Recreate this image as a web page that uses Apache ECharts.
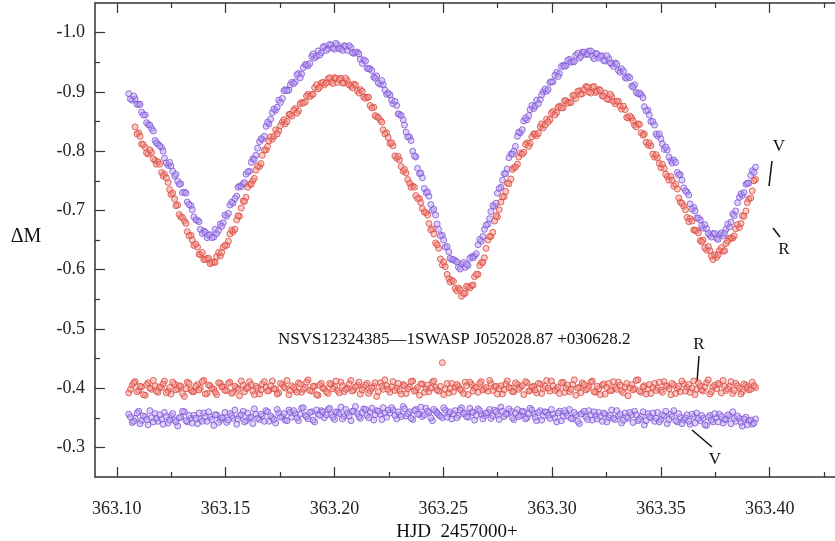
<!DOCTYPE html>
<html><head><meta charset="utf-8">
<script src="https://cdn.jsdelivr.net/npm/echarts@6/dist/echarts.min.js"></script>
<style>html,body{margin:0;padding:0;background:#fff}#c{width:835px;height:541px}</style>
</head><body><div id="c"></div>
<script>
const times = [
363.1055,363.1071,363.1084,363.1101,363.1114,363.1131,363.1144,363.1160,363.1176,363.1189,
363.1206,363.1219,363.1236,363.1249,363.1266,363.1280,363.1294,363.1311,363.1324,363.1341,
363.1354,363.1371,363.1384,363.1400,363.1415,363.1429,363.1446,363.1459,363.1476,363.1489,
363.1505,363.1520,363.1534,363.1551,363.1564,363.1581,363.1594,363.1610,363.1625,363.1639,
363.1656,363.1669,363.1686,363.1699,363.1715,363.1730,363.1744,363.1761,363.1774,363.1791,
363.1804,363.1820,363.1835,363.1849,363.1866,363.1879,363.1896,363.1909,363.1925,363.1940,
363.1954,363.1971,363.1984,363.2001,363.2014,363.2030,363.2045,363.2059,363.2076,363.2089,
363.2106,363.2119,363.2135,363.2150,363.2164,363.2181,363.2194,363.2211,363.2224,363.2240,
363.2255,363.2269,363.2286,363.2299,363.2316,363.2329,363.2345,363.2360,363.2374,363.2391,
363.2404,363.2421,363.2434,363.2450,363.2465,363.2479,363.2496,363.2509,363.2526,363.2539,
363.2555,363.2570,363.2584,363.2601,363.2614,363.2631,363.2644,363.2660,363.2675,363.2689,
363.2706,363.2719,363.2736,363.2749,363.2765,363.2780,363.2794,363.2811,363.2824,363.2841,
363.2854,363.2870,363.2885,363.2899,363.2916,363.2929,363.2946,363.2959,363.2975,363.2990,
363.3004,363.3021,363.3034,363.3051,363.3064,363.3080,363.3095,363.3109,363.3126,363.3139,
363.3156,363.3169,363.3185,363.3200,363.3214,363.3231,363.3244,363.3261,363.3274,363.3290,
363.3305,363.3319,363.3336,363.3349,363.3366,363.3379,363.3395,363.3410,363.3424,363.3441,
363.3454,363.3471,363.3484,363.3500,363.3515,363.3529,363.3546,363.3559,363.3576,363.3589,
363.3605,363.3620,363.3634,363.3651,363.3664,363.3681,363.3694,363.3710,363.3725,363.3739,
363.3756,363.3769,363.3786,363.3799,363.3815,363.3830,363.3844,363.3861,363.3874,363.3891,
363.3904,363.3920,363.3935];

const lightV = [
-0.897,-0.886,-0.888,-0.879,-0.866,-0.861,-0.845,-0.838,-0.818,-0.812,
-0.806,-0.788,-0.776,-0.775,-0.758,-0.749,-0.745,-0.731,-0.714,-0.708,
-0.689,-0.683,-0.668,-0.665,-0.654,-0.659,-0.655,-0.661,-0.677,-0.679,
-0.690,-0.709,-0.712,-0.724,-0.741,-0.745,-0.761,-0.766,-0.787,-0.793,
-0.816,-0.820,-0.842,-0.846,-0.865,-0.869,-0.886,-0.889,-0.904,-0.903,
-0.916,-0.917,-0.931,-0.930,-0.946,-0.944,-0.960,-0.957,-0.969,-0.966,
-0.977,-0.973,-0.979,-0.972,-0.979,-0.973,-0.978,-0.970,-0.975,-0.965,
-0.967,-0.955,-0.954,-0.940,-0.939,-0.925,-0.927,-0.913,-0.912,-0.896,
-0.895,-0.880,-0.877,-0.862,-0.853,-0.832,-0.824,-0.800,-0.790,-0.762,
-0.755,-0.730,-0.724,-0.700,-0.692,-0.668,-0.658,-0.638,-0.630,-0.617,
-0.615,-0.604,-0.609,-0.604,-0.607,-0.622,-0.623,-0.642,-0.648,-0.668,
-0.677,-0.698,-0.707,-0.729,-0.739,-0.762,-0.770,-0.795,-0.800,-0.825,
-0.831,-0.851,-0.853,-0.870,-0.872,-0.886,-0.887,-0.900,-0.901,-0.916,
-0.917,-0.933,-0.931,-0.945,-0.944,-0.955,-0.951,-0.962,-0.957,-0.967,
-0.963,-0.969,-0.960,-0.965,-0.957,-0.961,-0.952,-0.956,-0.947,-0.949,
-0.936,-0.939,-0.924,-0.926,-0.910,-0.912,-0.897,-0.895,-0.875,-0.869,
-0.850,-0.844,-0.826,-0.821,-0.803,-0.802,-0.784,-0.785,-0.764,-0.760,
-0.738,-0.731,-0.711,-0.705,-0.687,-0.684,-0.670,-0.669,-0.658,-0.661,
-0.653,-0.659,-0.657,-0.668,-0.672,-0.694,-0.699,-0.722,-0.725,-0.744,
-0.746,-0.767,-0.773];

const lightR = [
null,null,-0.841,-0.831,-0.812,-0.806,-0.795,-0.798,-0.784,-0.782,
-0.764,-0.761,-0.747,-0.727,-0.719,-0.709,-0.689,-0.682,-0.664,-0.658,
-0.641,-0.638,-0.625,-0.617,-0.619,-0.610,-0.613,-0.622,-0.623,-0.638,
-0.641,-0.660,-0.664,-0.684,-0.690,-0.716,-0.722,-0.744,-0.750,-0.768,
-0.774,-0.793,-0.802,-0.817,-0.820,-0.836,-0.834,-0.849,-0.846,-0.862,
-0.859,-0.872,-0.868,-0.882,-0.883,-0.896,-0.895,-0.907,-0.905,-0.915,
-0.912,-0.922,-0.917,-0.924,-0.916,-0.923,-0.915,-0.919,-0.910,-0.913,
-0.902,-0.904,-0.891,-0.891,-0.877,-0.874,-0.858,-0.852,-0.836,-0.831,
-0.813,-0.809,-0.788,-0.785,-0.766,-0.763,-0.746,-0.741,-0.725,-0.720,
-0.703,-0.696,-0.678,-0.669,-0.645,-0.636,-0.608,-0.605,-0.585,-0.582,
-0.568,-0.569,-0.555,-0.560,-0.571,-0.573,-0.588,-0.592,-0.612,-0.620,
-0.650,-0.656,-0.682,-0.689,-0.714,-0.723,-0.746,-0.753,-0.772,-0.778,
-0.797,-0.798,-0.814,-0.813,-0.829,-0.826,-0.841,-0.839,-0.854,-0.853,
-0.867,-0.865,-0.876,-0.873,-0.885,-0.882,-0.894,-0.889,-0.902,-0.897,
-0.909,-0.900,-0.908,-0.899,-0.904,-0.893,-0.898,-0.887,-0.892,-0.880,
-0.884,-0.871,-0.870,-0.856,-0.856,-0.844,-0.846,-0.831,-0.829,-0.810,
-0.809,-0.790,-0.789,-0.772,-0.771,-0.757,-0.757,-0.741,-0.736,-0.714,
-0.707,-0.688,-0.686,-0.667,-0.666,-0.649,-0.650,-0.633,-0.632,-0.617,
-0.621,-0.632,-0.631,-0.644,-0.652,-0.653,-0.669,-0.671,-0.691,-0.699,
-0.719,-0.733,-0.752];

const compR = [
-0.392,-0.405,-0.411,-0.396,-0.402,-0.388,-0.409,-0.398,-0.404,-0.393,
-0.401,-0.412,-0.395,-0.390,-0.407,-0.399,-0.403,-0.386,-0.410,-0.397,
-0.394,-0.406,-0.400,-0.413,-0.391,-0.404,-0.398,-0.389,-0.408,-0.402,
-0.396,-0.410,-0.393,-0.401,-0.387,-0.405,-0.399,-0.411,-0.395,-0.403,
-0.390,-0.407,-0.402,-0.396,-0.412,-0.398,-0.392,-0.406,-0.400,-0.389,
-0.404,-0.397,-0.409,-0.393,-0.401,-0.414,-0.395,-0.403,-0.388,-0.408,
-0.399,-0.391,-0.406,-0.402,-0.396,-0.410,-0.394,-0.400,-0.413,-0.397,
-0.405,-0.390,-0.401,-0.408,-0.395,-0.403,-0.386,-0.409,-0.398,-0.404,
-0.393,-0.411,-0.400,-0.396,-0.406,-0.391,-0.402,-0.412,-0.397,-0.388,
-0.407,-0.399,-0.394,-0.410,-0.401,-0.395,-0.443,-0.398,-0.392,-0.408,
-0.402,-0.403,-0.396,-0.410,-0.389,-0.406,-0.400,-0.393,-0.411,-0.399,
-0.395,-0.408,-0.402,-0.390,-0.404,-0.397,-0.412,-0.400,-0.394,-0.406,
-0.401,-0.389,-0.409,-0.396,-0.403,-0.392,-0.407,-0.399,-0.413,-0.395,
-0.404,-0.398,-0.391,-0.410,-0.400,-0.394,-0.406,-0.388,-0.402,-0.409,
-0.397,-0.403,-0.412,-0.393,-0.399,-0.405,-0.390,-0.408,-0.396,-0.401,
-0.410,-0.395,-0.402,-0.387,-0.406,-0.399,-0.414,-0.393,-0.404,-0.398,
-0.391,-0.408,-0.400,-0.396,-0.411,-0.403,-0.389,-0.405,-0.399,-0.394,
-0.407,-0.401,-0.393,-0.412,-0.398,-0.404,-0.395,-0.409,-0.390,-0.402,
-0.399,-0.406,-0.413,-0.396,-0.403,-0.391,-0.408,-0.400,-0.394,-0.405,
-0.397,-0.410,-0.401];

const compV = [
-0.356,-0.342,-0.349,-0.361,-0.345,-0.352,-0.338,-0.350,-0.357,-0.344,
-0.348,-0.359,-0.341,-0.353,-0.346,-0.336,-0.351,-0.360,-0.343,-0.349,
-0.354,-0.340,-0.347,-0.358,-0.344,-0.351,-0.337,-0.355,-0.346,-0.350,
-0.342,-0.357,-0.349,-0.339,-0.353,-0.361,-0.345,-0.350,-0.340,-0.356,
-0.347,-0.353,-0.362,-0.344,-0.350,-0.341,-0.358,-0.352,-0.346,-0.363,
-0.351,-0.357,-0.345,-0.366,-0.354,-0.348,-0.360,-0.343,-0.356,-0.362,
-0.350,-0.364,-0.355,-0.347,-0.359,-0.368,-0.352,-0.358,-0.345,-0.361,
-0.357,-0.349,-0.365,-0.354,-0.360,-0.346,-0.362,-0.356,-0.367,-0.351,
-0.358,-0.363,-0.348,-0.355,-0.369,-0.353,-0.360,-0.347,-0.364,-0.356,
-0.352,-0.366,-0.359,-0.345,-0.361,-0.355,-0.350,-0.363,-0.357,-0.348,
-0.362,-0.354,-0.367,-0.358,-0.351,-0.360,-0.346,-0.365,-0.356,-0.353,
-0.359,-0.349,-0.363,-0.355,-0.368,-0.352,-0.357,-0.361,-0.347,-0.364,
-0.354,-0.360,-0.350,-0.366,-0.357,-0.345,-0.362,-0.353,-0.359,-0.349,
-0.356,-0.343,-0.361,-0.352,-0.358,-0.364,-0.348,-0.355,-0.340,-0.357,
-0.351,-0.362,-0.346,-0.354,-0.359,-0.344,-0.356,-0.350,-0.363,-0.347,
-0.353,-0.341,-0.358,-0.349,-0.355,-0.361,-0.345,-0.352,-0.338,-0.357,
-0.350,-0.344,-0.359,-0.347,-0.353,-0.340,-0.356,-0.362,-0.343,-0.351,
-0.346,-0.355,-0.339,-0.352,-0.358,-0.345,-0.349,-0.337,-0.354,-0.343,
-0.350,-0.356,-0.341,-0.347,-0.353,-0.360,-0.344,-0.349,-0.336,-0.351,
-0.345,-0.339,-0.348];

const times2 = [
363.1063,363.1078,363.1093,363.1107,363.1122,363.1137,363.1152,363.1168,363.1182,363.1197,
363.1213,363.1228,363.1243,363.1257,363.1272,363.1287,363.1302,363.1318,363.1332,363.1347,
363.1363,363.1378,363.1393,363.1407,363.1422,363.1437,363.1452,363.1468,363.1482,363.1497,
363.1513,363.1528,363.1543,363.1557,363.1572,363.1587,363.1602,363.1618,363.1632,363.1647,
363.1663,363.1678,363.1693,363.1707,363.1722,363.1737,363.1752,363.1768,363.1782,363.1797,
363.1813,363.1828,363.1843,363.1857,363.1872,363.1887,363.1902,363.1918,363.1932,363.1947,
363.1963,363.1978,363.1993,363.2007,363.2022,363.2037,363.2052,363.2068,363.2082,363.2097,
363.2113,363.2128,363.2143,363.2157,363.2172,363.2187,363.2202,363.2218,363.2232,363.2247,
363.2263,363.2278,363.2293,363.2307,363.2322,363.2337,363.2352,363.2368,363.2382,363.2397,
363.2413,363.2428,363.2443,363.2457,363.2472,363.2487,363.2502,363.2518,363.2532,363.2547,
363.2563,363.2578,363.2593,363.2607,363.2622,363.2637,363.2652,363.2668,363.2682,363.2697,
363.2713,363.2728,363.2743,363.2757,363.2772,363.2787,363.2802,363.2818,363.2832,363.2847,
363.2863,363.2878,363.2893,363.2907,363.2922,363.2937,363.2952,363.2968,363.2982,363.2997,
363.3013,363.3028,363.3043,363.3057,363.3072,363.3087,363.3102,363.3118,363.3132,363.3147,
363.3163,363.3178,363.3193,363.3207,363.3222,363.3237,363.3252,363.3268,363.3282,363.3297,
363.3313,363.3328,363.3343,363.3357,363.3372,363.3387,363.3402,363.3418,363.3432,363.3447,
363.3463,363.3478,363.3493,363.3507,363.3522,363.3537,363.3552,363.3568,363.3582,363.3597,
363.3613,363.3628,363.3643,363.3657,363.3672,363.3687,363.3702,363.3718,363.3732,363.3747,
363.3763,363.3778,363.3793,363.3807,363.3822,363.3837,363.3852,363.3868,363.3882,363.3897,
363.3913,363.3928];

const lightV2 = [
-0.888,-0.893,-0.879,-0.879,-0.861,-0.848,-0.844,-0.834,-0.814,-0.809,
-0.800,-0.780,-0.781,-0.766,-0.761,-0.744,-0.730,-0.729,-0.710,-0.701,
-0.684,-0.681,-0.661,-0.663,-0.658,-0.654,-0.668,-0.666,-0.673,-0.692,
-0.695,-0.714,-0.720,-0.739,-0.740,-0.747,-0.765,-0.781,-0.786,-0.805,
-0.821,-0.825,-0.849,-0.854,-0.871,-0.874,-0.882,-0.902,-0.902,-0.912,
-0.914,-0.929,-0.924,-0.941,-0.946,-0.948,-0.964,-0.960,-0.962,-0.975,
-0.970,-0.980,-0.974,-0.982,-0.973,-0.970,-0.977,-0.978,-0.966,-0.967,
-0.964,-0.948,-0.952,-0.939,-0.936,-0.923,-0.915,-0.919,-0.903,-0.898,
-0.886,-0.884,-0.863,-0.860,-0.844,-0.824,-0.818,-0.792,-0.771,-0.763,
-0.737,-0.731,-0.710,-0.702,-0.677,-0.657,-0.650,-0.639,-0.619,-0.617,
-0.613,-0.601,-0.612,-0.609,-0.619,-0.620,-0.627,-0.651,-0.656,-0.675,
-0.686,-0.708,-0.712,-0.737,-0.751,-0.762,-0.789,-0.795,-0.808,-0.832,
-0.836,-0.856,-0.860,-0.877,-0.876,-0.880,-0.895,-0.905,-0.904,-0.917,
-0.928,-0.926,-0.943,-0.943,-0.953,-0.950,-0.951,-0.965,-0.960,-0.967,
-0.964,-0.969,-0.956,-0.964,-0.960,-0.953,-0.961,-0.949,-0.943,-0.947,
-0.933,-0.935,-0.923,-0.924,-0.908,-0.899,-0.898,-0.890,-0.868,-0.861,
-0.850,-0.829,-0.829,-0.812,-0.807,-0.790,-0.780,-0.781,-0.760,-0.751,
-0.733,-0.726,-0.702,-0.699,-0.687,-0.674,-0.676,-0.661,-0.655,-0.661,
-0.651,-0.662,-0.661,-0.677,-0.680,-0.691,-0.713,-0.728,-0.730,-0.746,
-0.759,-0.764];

const lightR2 = [
null,null,-0.829,-0.825,-0.811,-0.797,-0.802,-0.787,-0.778,-0.778,
-0.758,-0.755,-0.735,-0.729,-0.708,-0.693,-0.688,-0.678,-0.657,-0.650,
-0.643,-0.626,-0.629,-0.617,-0.619,-0.612,-0.612,-0.629,-0.629,-0.641,
-0.648,-0.667,-0.668,-0.691,-0.704,-0.715,-0.739,-0.744,-0.754,-0.775,
-0.779,-0.802,-0.808,-0.824,-0.825,-0.829,-0.843,-0.853,-0.850,-0.862,
-0.869,-0.864,-0.880,-0.881,-0.893,-0.892,-0.896,-0.912,-0.908,-0.916,
-0.915,-0.924,-0.914,-0.923,-0.921,-0.915,-0.923,-0.912,-0.907,-0.912,
-0.898,-0.901,-0.889,-0.891,-0.873,-0.860,-0.857,-0.849,-0.829,-0.823,
-0.814,-0.792,-0.791,-0.774,-0.769,-0.752,-0.739,-0.739,-0.720,-0.713,
-0.697,-0.692,-0.667,-0.660,-0.642,-0.618,-0.613,-0.592,-0.579,-0.580,
-0.564,-0.566,-0.560,-0.572,-0.569,-0.574,-0.592,-0.607,-0.612,-0.636,
-0.656,-0.663,-0.691,-0.701,-0.723,-0.732,-0.745,-0.769,-0.773,-0.790,
-0.795,-0.811,-0.808,-0.824,-0.829,-0.830,-0.846,-0.844,-0.849,-0.864,
-0.861,-0.874,-0.873,-0.885,-0.881,-0.882,-0.894,-0.901,-0.896,-0.904,
-0.908,-0.898,-0.909,-0.901,-0.903,-0.893,-0.888,-0.896,-0.884,-0.884,
-0.876,-0.876,-0.857,-0.859,-0.851,-0.841,-0.845,-0.827,-0.815,-0.814,
-0.795,-0.794,-0.779,-0.778,-0.761,-0.751,-0.751,-0.744,-0.721,-0.712,
-0.701,-0.681,-0.682,-0.666,-0.662,-0.647,-0.637,-0.639,-0.623,-0.625,
-0.625,-0.637,-0.632,-0.648,-0.654,-0.657,-0.676,-0.678,-0.690,-0.713,
-0.721,-0.750];

const compR2 = [
-0.398,-0.409,-0.394,-0.403,-0.389,-0.406,-0.400,-0.413,-0.395,-0.402,
-0.407,-0.392,-0.401,-0.410,-0.397,-0.404,-0.391,-0.399,-0.408,-0.394,
-0.403,-0.397,-0.411,-0.390,-0.405,-0.399,-0.393,-0.409,-0.402,-0.396,
-0.408,-0.391,-0.403,-0.398,-0.412,-0.394,-0.401,-0.406,-0.389,-0.400,
-0.397,-0.411,-0.395,-0.404,-0.399,-0.390,-0.408,-0.402,-0.413,-0.396,
-0.401,-0.393,-0.407,-0.398,-0.410,-0.396,-0.403,-0.389,-0.405,-0.400,
-0.394,-0.408,-0.399,-0.412,-0.392,-0.404,-0.398,-0.407,-0.395,-0.402,
-0.410,-0.397,-0.405,-0.391,-0.400,-0.409,-0.394,-0.403,-0.414,-0.398,
-0.402,-0.396,-0.408,-0.390,-0.404,-0.399,-0.411,-0.395,-0.401,-0.407,
-0.393,-0.405,-0.400,-0.412,-0.397,-0.403,-0.389,-0.408,-0.399,-0.394,
-0.406,-0.398,-0.391,-0.404,-0.410,-0.395,-0.402,-0.408,-0.397,-0.401,
-0.413,-0.396,-0.403,-0.399,-0.390,-0.407,-0.401,-0.394,-0.409,-0.398,
-0.404,-0.411,-0.395,-0.402,-0.397,-0.408,-0.391,-0.403,-0.400,-0.412,
-0.396,-0.401,-0.409,-0.393,-0.405,-0.398,-0.414,-0.400,-0.392,-0.406,
-0.399,-0.410,-0.394,-0.403,-0.389,-0.407,-0.401,-0.396,-0.411,-0.398,
-0.405,-0.392,-0.408,-0.400,-0.397,-0.413,-0.395,-0.402,-0.390,-0.406,
-0.401,-0.396,-0.410,-0.393,-0.404,-0.399,-0.408,-0.391,-0.403,-0.412,
-0.395,-0.406,-0.400,-0.389,-0.409,-0.397,-0.402,-0.414,-0.394,-0.405,
-0.408,-0.392,-0.403,-0.399,-0.411,-0.396,-0.404,-0.390,-0.407,-0.401,
-0.398,-0.404];

const compV2 = [
-0.351,-0.344,-0.358,-0.340,-0.353,-0.347,-0.362,-0.343,-0.349,-0.355,
-0.339,-0.352,-0.346,-0.357,-0.343,-0.350,-0.361,-0.345,-0.354,-0.341,
-0.349,-0.358,-0.344,-0.352,-0.360,-0.347,-0.355,-0.342,-0.350,-0.359,
-0.346,-0.353,-0.363,-0.348,-0.355,-0.343,-0.358,-0.351,-0.365,-0.349,
-0.356,-0.344,-0.360,-0.353,-0.347,-0.364,-0.351,-0.357,-0.345,-0.359,
-0.362,-0.350,-0.356,-0.367,-0.352,-0.359,-0.346,-0.363,-0.354,-0.360,
-0.355,-0.366,-0.351,-0.360,-0.357,-0.348,-0.364,-0.353,-0.361,-0.369,
-0.352,-0.359,-0.364,-0.350,-0.366,-0.355,-0.361,-0.347,-0.358,-0.363,
-0.367,-0.354,-0.360,-0.352,-0.365,-0.357,-0.349,-0.362,-0.356,-0.368,
-0.355,-0.361,-0.350,-0.364,-0.358,-0.353,-0.367,-0.351,-0.360,-0.356,
-0.350,-0.363,-0.357,-0.352,-0.366,-0.359,-0.354,-0.362,-0.348,-0.358,
-0.364,-0.353,-0.360,-0.347,-0.361,-0.356,-0.365,-0.350,-0.358,-0.352,
-0.361,-0.348,-0.357,-0.363,-0.351,-0.359,-0.346,-0.360,-0.354,-0.364,
-0.350,-0.358,-0.345,-0.362,-0.353,-0.349,-0.359,-0.344,-0.356,-0.361,
-0.347,-0.355,-0.360,-0.348,-0.352,-0.358,-0.343,-0.354,-0.349,-0.362,
-0.356,-0.346,-0.351,-0.359,-0.342,-0.355,-0.348,-0.360,-0.345,-0.352,
-0.358,-0.349,-0.343,-0.355,-0.361,-0.347,-0.352,-0.345,-0.357,-0.340,
-0.350,-0.344,-0.356,-0.341,-0.349,-0.354,-0.338,-0.351,-0.346,-0.357,
-0.343,-0.352,-0.347,-0.355,-0.340,-0.349,-0.353,-0.342,-0.348,-0.338,
-0.346,-0.341];

const xMajorTicks = [363.10, 363.15, 363.20, 363.25, 363.30, 363.35, 363.40];
const xMinorTicks = [363.125, 363.175, 363.225, 363.275, 363.325, 363.375, 363.425];
const yMajorTicks = [-1.0, -0.9, -0.8, -0.7, -0.6, -0.5, -0.4, -0.3];
const yMinorTicks = [-0.95, -0.85, -0.75, -0.65, -0.55, -0.45, -0.35];
const starTitle = 'NSVS12324385\u20141SWASP J052028.87 +030628.2';
const xName = 'HJD  2457000+';
const yName = '\u0394M';

const SERIF = '"Liberation Serif", "Times New Roman", serif';
const X_MIN = 363.09, X_MAX = 363.43, Y_MIN = -1.05, Y_MAX = -0.25;
const AX = '#333';

function pairs(ts, ys) {
  const out = [];
  ys.forEach((y, i) => { if (y !== null) out.push([ts[i], y]); });
  return out;
}

const purple = { color: 'rgba(188,160,245,0.6)', borderColor: '#7d54d4', borderWidth: 1 };
const red = { color: 'rgba(245,145,135,0.6)', borderColor: '#d9463c', borderWidth: 1 };

function xAx(pos, ticks, len, showLine, showLabel) {
  return {
    type: 'value', position: pos, min: X_MIN, max: X_MAX,
    axisLine: { show: showLine, onZero: false, lineStyle: { color: AX, width: 1.5 } },
    axisTick: { show: true, inside: true, length: len, customValues: ticks, lineStyle: { color: AX, width: 1.2 } },
    axisLabel: showLabel ? { show: true, customValues: ticks, formatter: v => v.toFixed(2),
      fontFamily: SERIF, fontSize: 18, color: '#222', margin: 23 } : { show: false },
    splitLine: { show: false }
  };
}
function yAx(ticks, len, showLine, showLabel) {
  return {
    type: 'value', position: 'left', inverse: true, min: Y_MIN, max: Y_MAX,
    axisLine: { show: showLine, onZero: false, lineStyle: { color: AX, width: 1.5 } },
    axisTick: { show: true, inside: true, length: len, customValues: ticks, lineStyle: { color: AX, width: 1.2 } },
    axisLabel: showLabel ? { show: true, customValues: ticks, formatter: v => v.toFixed(1),
      fontFamily: SERIF, fontSize: 18, color: '#222', margin: 10 } : { show: false },
    splitLine: { show: false }
  };
}

const chart = echarts.init(document.getElementById('c'), null, { renderer: 'canvas' });
const txt = (t, x, y, size, align) => ({
  type: 'text', x: x, y: y, silent: true,
  style: { text: t, fill: '#111', font: size + 'px ' + SERIF, textAlign: align || 'center', textVerticalAlign: 'middle' }
});
const ln = (x1, y1, x2, y2) => ({
  type: 'line', silent: true, shape: { x1, y1, x2, y2 }, style: { stroke: '#111', lineWidth: 1.5 }
});
const sc = (name, data, style) => ({ name, type: 'scatter', data, symbol: 'circle', symbolSize: 6, itemStyle: style });

chart.setOption({
  animation: false,
  backgroundColor: '#fff',
  grid: { left: 95, top: 3, width: 772, height: 474, containLabel: false },
  xAxis: [
    xAx('bottom', xMajorTicks, 10, true, true),
    xAx('bottom', xMinorTicks, 5, false, false),
    xAx('top', xMajorTicks, 10, true, false),
    xAx('top', xMinorTicks, 5, false, false)
  ],
  yAxis: [
    yAx(yMajorTicks, 10, true, true),
    yAx(yMinorTicks, 5, false, false)
  ],
  series: [
    sc('V', pairs(times, lightV).concat(pairs(times2, lightV2)), purple),
    sc('R', pairs(times, lightR).concat(pairs(times2, lightR2)), red),
    sc('R check', pairs(times, compR).concat(pairs(times2, compR2)), red),
    sc('V check', pairs(times, compV).concat(pairs(times2, compV2)), purple)
  ],
  graphic: [
    txt(yName, 26, 237, 20),
    txt(xName, 457, 532, 19),
    txt(starTitle, 278, 340, 17, 'left'),
    txt('V', 779, 147, 17), ln(772, 161, 769, 186),
    txt('R', 784, 250, 17), ln(773, 228, 780, 237),
    txt('R', 699, 345, 17), ln(699, 356, 697, 382),
    txt('V', 715, 460, 17), ln(692, 430, 712, 447)
  ]
});
</script>
</body></html>
